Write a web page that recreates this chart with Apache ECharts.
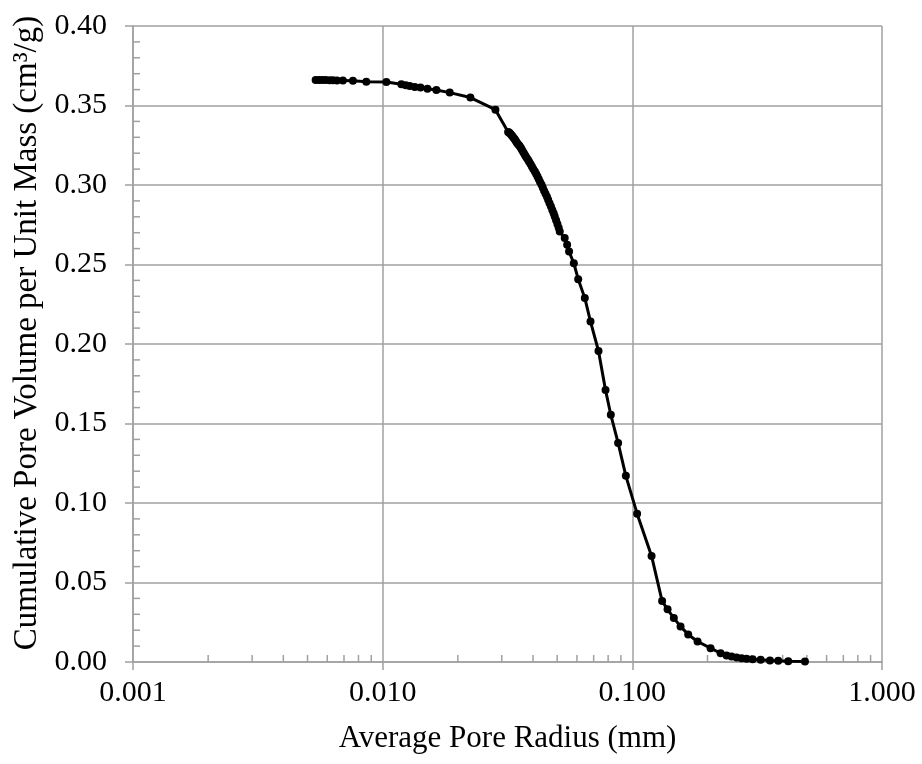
<!DOCTYPE html>
<html>
<head>
<meta charset="utf-8">
<script src="https://cdn.jsdelivr.net/npm/echarts@6/dist/echarts.min.js"></script>
<style>
html,body{margin:0;padding:0;background:#fff;}
#chart{width:922px;height:764px;}
</style>
</head>
<body>
<div id="chart"></div>
<script>
// Average pore radius (mm)
const radius = [
  0.00539, 0.00556, 0.00573, 0.00591, 0.00613, 0.00632, 0.00656, 0.00693, 0.00760, 0.00860,
  0.01035, 0.01188, 0.01237, 0.01283, 0.01344, 0.01417, 0.01511, 0.01641, 0.01856, 0.02246,
  0.02829,
  0.0318, 0.0321, 0.0323, 0.0326, 0.0329, 0.0332, 0.0335, 0.0338, 0.0341, 0.0344,
  0.0347, 0.0351, 0.0354, 0.0358, 0.0361, 0.0365, 0.0369, 0.0373, 0.0377, 0.0382,
  0.0386, 0.0391, 0.0396, 0.0401, 0.0407, 0.0412, 0.0417, 0.0422, 0.0427, 0.0433,
  0.0438, 0.0443, 0.0449, 0.0455, 0.0460, 0.0466, 0.0472, 0.0478, 0.0484, 0.0489,
  0.0495, 0.0501, 0.0507, 0.0512,
  0.0536, 0.0548, 0.0558, 0.0583, 0.0607, 0.0645, 0.0680, 0.0732, 0.0781, 0.0820,
  0.0877, 0.0942, 0.1045, 0.1194, 0.1316, 0.1384, 0.1466, 0.1560, 0.1674, 0.1825,
  0.2058, 0.2257, 0.2385, 0.2497, 0.2616, 0.2739, 0.2869, 0.3032, 0.3265, 0.3558,
  0.3841, 0.4211, 0.4913
];
// Cumulative pore volume per unit mass (cm3/g)
const volume = [
  0.3661, 0.3661, 0.3661, 0.3661, 0.3659, 0.3659, 0.3657, 0.3657, 0.3655, 0.3650,
  0.3648, 0.3634, 0.3627, 0.3623, 0.3617, 0.3613, 0.3606, 0.3598, 0.3581, 0.3550,
  0.3474,
  0.3334, 0.3330, 0.3326, 0.3319, 0.3311, 0.3303, 0.3295, 0.3287, 0.3278, 0.3269,
  0.3260, 0.3251, 0.3243, 0.3232, 0.3221, 0.3209, 0.3197, 0.3184, 0.3171, 0.3159,
  0.3147, 0.3132, 0.3116, 0.3100, 0.3085, 0.3069, 0.3053, 0.3036, 0.3019, 0.3002,
  0.2983, 0.2964, 0.2945, 0.2926, 0.2907, 0.2886, 0.2864, 0.2843, 0.2822, 0.2802,
  0.2779, 0.2755, 0.2731, 0.2707,
  0.2666, 0.2624, 0.2581, 0.2508, 0.2408, 0.2290, 0.2141, 0.1956, 0.1710, 0.1555,
  0.1378, 0.1171, 0.0933, 0.0667, 0.0383, 0.0331, 0.0276, 0.0224, 0.0173, 0.0129,
  0.0087, 0.0055, 0.0041, 0.0035, 0.0028, 0.0024, 0.0020, 0.0018, 0.0014, 0.0009,
  0.0008, 0.0005, 0.0003
];
const xMinorTicks = [
  0.002, 0.003, 0.004, 0.005, 0.006, 0.007, 0.008, 0.009,
  0.02, 0.03, 0.04, 0.05, 0.06, 0.07, 0.08, 0.09,
  0.2, 0.3, 0.4, 0.5, 0.6, 0.7, 0.8, 0.9
];
const yMinorTicks = [
  0.01, 0.02, 0.03, 0.04, 0.06, 0.07, 0.08, 0.09,
  0.11, 0.12, 0.13, 0.14, 0.16, 0.17, 0.18, 0.19,
  0.21, 0.22, 0.23, 0.24, 0.26, 0.27, 0.28, 0.29,
  0.31, 0.32, 0.33, 0.34, 0.36, 0.37, 0.38, 0.39
];
const xTitle = 'Average Pore Radius (mm)';
const yTitle = 'Cumulative Pore Volume per Unit Mass (cm³/g)';

const FONT = '"Liberation Serif", "Times New Roman", serif';
const GRAY = '#a0a0a0';

const chart = echarts.init(document.getElementById('chart'), null, {renderer: 'canvas'});

const points = radius.map((r, i) => [r, volume[i]]);

const option = {
  animation: false,
  backgroundColor: '#ffffff',
  grid: {left: 133, right: 40, top: 26, bottom: 102, containLabel: false},
  xAxis: {
    type: 'log',
    logBase: 10,
    min: 0.001,
    max: 1,
    name: xTitle,
    nameLocation: 'middle',
    nameGap: 61,
    nameTextStyle: {fontFamily: FONT, fontSize: 31, color: '#000'},
    axisLine: {show: true, lineStyle: {color: GRAY, width: 1.5}},
    axisTick: {show: true, inside: false, length: 8, lineStyle: {color: GRAY, width: 1.5}},
    axisLabel: {
      fontFamily: FONT, fontSize: 30, color: '#000', margin: 16,
      formatter: v => Number(v).toFixed(3)
    },
    splitLine: {show: true, lineStyle: {color: GRAY, width: 1.5}},
    minorTick: {show: false},
    minorSplitLine: {show: false}
  },
  yAxis: {
    type: 'value',
    min: 0,
    max: 0.4,
    interval: 0.05,
    name: yTitle,
    nameLocation: 'middle',
    nameGap: 86,
    nameTextStyle: {fontFamily: FONT, fontSize: 33, color: '#000', padding: [0, 0, 0, 22]},
    axisLine: {show: true, lineStyle: {color: GRAY, width: 1.5}},
    axisTick: {show: true, inside: false, length: 8, lineStyle: {color: GRAY, width: 1.5}},
    axisLabel: {
      fontFamily: FONT, fontSize: 30, color: '#000', margin: 26,
      formatter: v => Number(v).toFixed(2)
    },
    splitLine: {show: true, lineStyle: {color: GRAY, width: 1.5}}
  },
  series: [
    {
      type: 'custom',
      silent: true,
      clip: false,
      z: 1,
      data: xMinorTicks.map(v => [v, 0]),
      encode: {x: 0, y: 1},
      renderItem: (params, api) => {
        const p = api.coord([api.value(0), 0]);
        return {
          type: 'line',
          shape: {x1: p[0], y1: p[1], x2: p[0], y2: p[1] - 7},
          style: {stroke: GRAY, lineWidth: 1.5}
        };
      }
    },
    {
      type: 'custom',
      silent: true,
      clip: false,
      z: 1,
      data: yMinorTicks.map(v => [0.001, v]),
      encode: {x: 0, y: 1},
      renderItem: (params, api) => {
        const p = api.coord([0.001, api.value(1)]);
        return {
          type: 'line',
          shape: {x1: p[0], y1: p[1], x2: p[0] + 7, y2: p[1]},
          style: {stroke: GRAY, lineWidth: 1.5}
        };
      }
    },
    {
      type: 'line',
      data: points,
      z: 5,
      symbol: 'circle',
      symbolSize: 8,
      showSymbol: true,
      lineStyle: {color: '#000', width: 3},
      itemStyle: {color: '#000'}
    }
  ]
};
chart.setOption(option);
</script>
</body>
</html>
